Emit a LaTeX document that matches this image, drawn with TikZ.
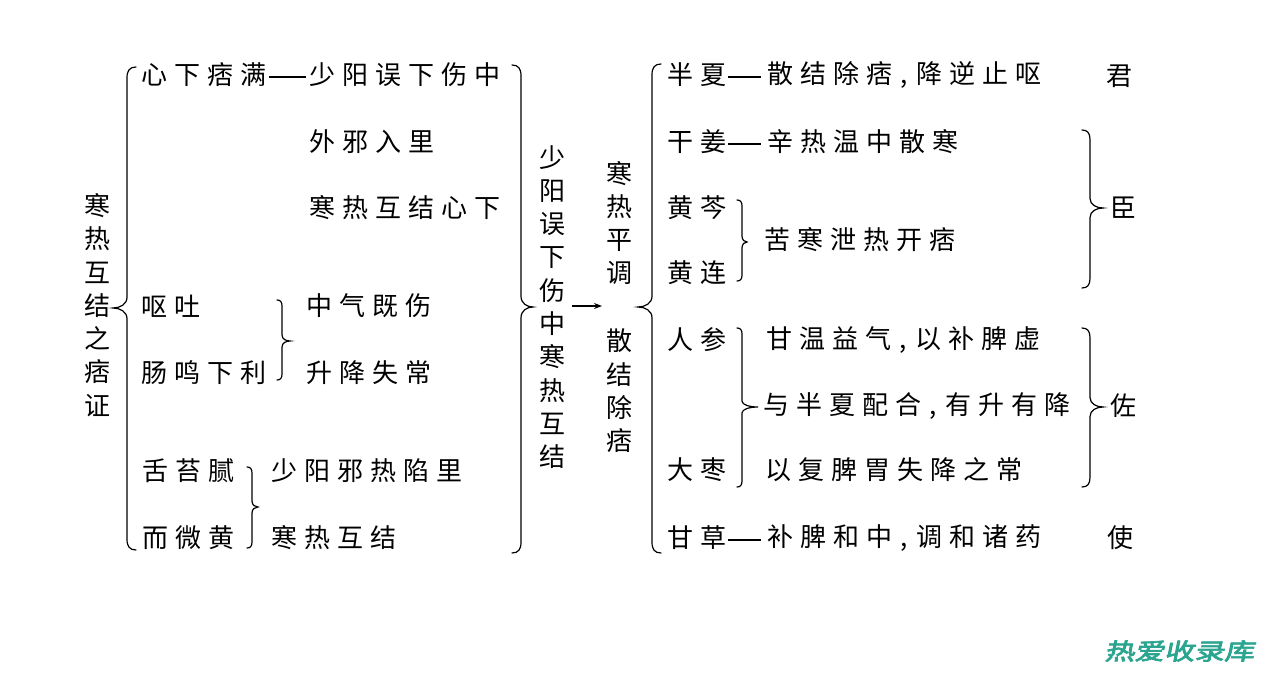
\documentclass[tikz,border=0pt]{standalone}
\usepackage{fontspec}
\usetikzlibrary{arrows.meta}
\newfontfamily\cjk{Noto Sans CJK SC}
\newfontfamily\wmfont[FakeBold=3]{Noto Sans CJK SC}
\definecolor{wmteal}{HTML}{2BA58F}
\newdimen\SPgap \SPgap=7pt
\def\SPend{\SPend}
\def\SP#1{\SPa#1\SPend}
\def\SPa#1{#1\SPb}
\def\SPb#1{\ifx#1\SPend\else\kern\SPgap#1\expandafter\SPb\fi}
\def\cm{\makebox[10pt][c]{,}}
% right brace "}" : v, tip x, y1, tip y, y2, curl
\newcommand\RBr[6]{%
\draw[brc] ({#1-#6},#3) .. controls ({#1-0.3*#6},#3) and (#1,{#3+0.4*#6}) .. (#1,{#3+1.2*#6})
 -- (#1,{#4-1.2*#6}) .. controls (#1,{#4-0.4*#6}) and ({#2-0.5*(#2-#1)},#4) .. (#2,#4)
 .. controls ({#2-0.5*(#2-#1)},#4) and (#1,{#4+0.4*#6}) .. (#1,{#4+1.2*#6})
 -- (#1,{#5-1.2*#6}) .. controls (#1,{#5-0.4*#6}) and ({#1-0.3*#6},#5) .. ({#1-#6},#5);}
% left brace "{"
\newcommand\LBr[6]{%
\draw[brc] ({#1+#6},#3) .. controls ({#1+0.3*#6},#3) and (#1,{#3+0.4*#6}) .. (#1,{#3+1.2*#6})
 -- (#1,{#4-1.2*#6}) .. controls (#1,{#4-0.4*#6}) and ({#2+0.5*(#1-#2)},#4) .. (#2,#4)
 .. controls ({#2+0.5*(#1-#2)},#4) and (#1,{#4+0.4*#6}) .. (#1,{#4+1.2*#6})
 -- (#1,{#5-1.2*#6}) .. controls (#1,{#5-0.4*#6}) and ({#1+0.3*#6},#5) .. ({#1+#6},#5);}
\begin{document}
\begin{tikzpicture}[x=1pt,y=-1pt,
  txt/.style={font=\cjk\fontsize{26}{33.3}\selectfont, inner sep=0pt, anchor=west},
  vtxt/.style={font=\cjk\fontsize{26}{33.3}\selectfont, inner sep=0pt, align=center},
  brc/.style={line width=1.2pt, line cap=round},
  dashln/.style={line width=1.1pt},
  arr/.style={line width=1.1pt, -{Stealth[length=8pt,width=6pt]}},
  wm/.style={font=\wmfont\fontsize{23}{23}\selectfont, text=wmteal, inner sep=0pt, xscale=1.3, xslant=0.15}]
\fill[white] (0,0) rectangle (1280,675);
\useasboundingbox (0,0) rectangle (1280,675);
% left column
\node[vtxt] (L0) at (97,305) {寒\\热\\互\\结\\之\\痞\\证};
\LBr{127}{113}{67}{308}{550}{9}
\node[txt] (a1) at (141,75) {\SP{心下痞满}};
\node[txt] (a2) at (309,75) {\SP{少阳误下伤中}};
\draw[dashln] ([xshift=3pt,yshift=-2pt]a1.east) -- ([xshift=-3pt,yshift=-2pt]a2.west);
\node[txt] (a3) at (309,142) {\SP{外邪入里}};
\node[txt] (a4) at (309,208) {\SP{寒热互结心下}};
\node[txt] (a5) at (141,306) {\SP{呕吐}};
\node[txt] (a6) at (141,373) {\SP{肠鸣下利}};
\RBr{282}{290}{300}{341}{380}{5}
\node[txt] (a7) at (306,306) {\SP{中气既伤}};
\node[txt] (a8) at (306,373) {\SP{升降失常}};
\node[txt] (a9) at (142,471) {\SP{舌苔腻}};
\node[txt] (a10) at (142,538) {\SP{而微黄}};
\RBr{252}{258}{467}{507}{548}{5}
\node[txt] (a11) at (271,471) {\SP{少阳邪热陷里}};
\node[txt] (a12) at (271,538) {\SP{寒热互结}};
% middle
\RBr{521}{533}{65}{307}{553}{9}
\node[vtxt] (V2) at (552,307) {少\\阳\\误\\下\\伤\\中\\寒\\热\\互\\结};
\coordinate (arS) at (572,306);
\coordinate (arE) at (602,306);
\draw[arr] (arS) -- (arE);
\node[vtxt] (V3) at (619,223) {寒\\热\\平\\调};
\node[vtxt] (V4) at (619,391) {散\\结\\除\\痞};
\LBr{652}{638}{64}{307}{553}{9}
% right
\node[txt] (r1) at (667,75) {\SP{半夏}};
\node[txt] (r2) at (767,75) {\SP{散结除痞\cm 降逆止呕}};
\draw[dashln] ([xshift=2pt,yshift=-2pt]r1.east) -- ([xshift=-6pt,yshift=-2pt]r2.west);
\node[vtxt] (jun) at (1119,76) {君};
\node[txt] (r3) at (667,142) {\SP{干姜}};
\node[txt] (r4) at (767,142) {\SP{辛热温中散寒}};
\draw[dashln] ([xshift=2pt,yshift=-2pt]r3.east) -- ([xshift=-6pt,yshift=-2pt]r4.west);
\node[txt] (r5) at (667,208) {\SP{黄芩}};
\node[txt] (r6) at (667,273) {\SP{黄连}};
\RBr{742}{747}{200}{242}{281}{5}
\node[txt] (r7) at (764,240) {\SP{苦寒泄热开痞}};
\RBr{1090}{1103}{130}{208}{288}{8}
\node[vtxt] (chen) at (1123,208) {臣};
\node[txt] (r8) at (667,340) {\SP{人参}};
\node[txt] (r9) at (667,470) {\SP{大枣}};
\RBr{742}{758}{328}{407}{487}{5}
\node[txt] (r10) at (766,340) {\SP{甘温益气\cm 以补脾虚}};
\node[txt] (r11) at (763,406) {\SP{与半夏配合\cm 有升有降}};
\node[txt] (r12) at (765,470) {\SP{以复脾胃失降之常}};
\RBr{1090}{1103}{328}{407}{487}{8}
\node[vtxt] (zuo) at (1123,406) {佐};
\node[txt] (r13) at (667,538) {\SP{甘草}};
\node[txt] (r14) at (767,538) {\SP{补脾和中\cm 调和诸药}};
\draw[dashln] ([xshift=2pt,yshift=-2pt]r13.east) -- ([xshift=-6pt,yshift=-2pt]r14.west);
\node[vtxt] (shi) at (1120,538) {使};
% watermark
\node[wm] (wm) at (1181,651) {热爱收录库};
\end{tikzpicture}
\end{document}
